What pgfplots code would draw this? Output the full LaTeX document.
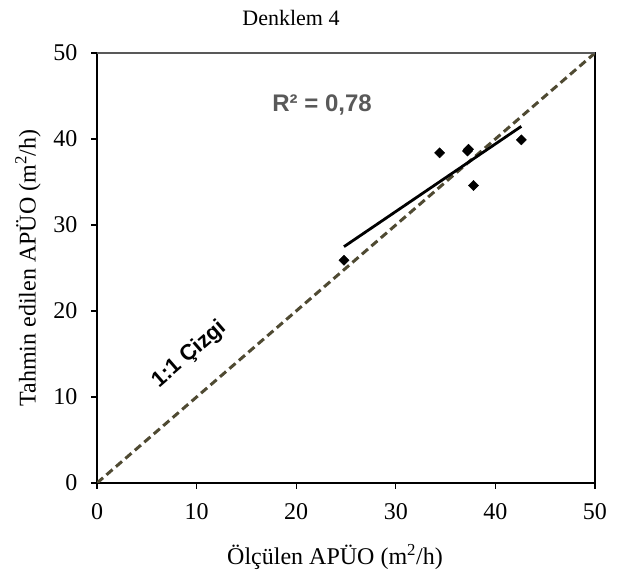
\documentclass[border=0pt]{standalone}
\usepackage{fontspec}
\setmainfont{Liberation Serif}
\setsansfont{Liberation Sans}
\usepackage{pgfplots}
\usepackage{pgfplotstable}
\pgfplotsset{compat=1.18}

\definecolor{onetoone}{RGB}{79,74,50}
\definecolor{rtext}{RGB}{89,89,89}
\definecolor{topline}{RGB}{89,89,89}

% measured vs predicted (m2/h)
\pgfplotstableread{
x    y
24.8 25.9
34.4 38.4
37.2 38.6
37.3 38.8
37.8 34.6
42.6 39.9
}\denklem

\begin{document}
\begin{tikzpicture}
\path (0,0) rectangle (627pt,588pt);
\begin{axis}[
  at={(97pt,105pt)}, anchor=south west,
  scale only axis, width=498pt, height=430pt,
  xmin=0, xmax=50, ymin=0, ymax=50,
  xtick={0,10,...,50}, ytick={0,10,...,50},
  xtick pos=left, ytick pos=left,
  tick align=outside, major tick length=6pt,
  axis line style={line width=1.2pt, black},
  tick style={line width=1.2pt, black},
  tick label style={font=\fontsize{24}{28}\selectfont},
  /pgf/number format/assume math mode=true,
  yticklabel style={xshift=-10pt},
  xticklabel style={yshift=-11pt},
]
\addplot[onetoone, line width=3pt, dash pattern=on 8pt off 4.5pt] coordinates {(0,0) (50,50)};
\addplot[black, line width=2.8pt] table[x=x, y={create col/linear regression={y=y}}] {\denklem};
\addplot[only marks, mark=square*, mark size=3.6pt, mark options={rotate=45, black}] table[x=x, y=y] {\denklem};
\draw[topline, line width=1.2pt] (rel axis cs:0,1) -- (rel axis cs:1,1);
\node[text=rtext, font=\sffamily\bfseries\fontsize{24}{28}\selectfont] at (axis cs:22.6,43.9) {R² = 0,78};
\node[rotate=41, inner sep=0pt, font=\sffamily\bfseries\fontsize{22}{26}\selectfont] at (axis cs:9.3,14.9) {1:1 Çizgi};
\end{axis}
\node[font=\fontsize{22}{26}\selectfont] at (291pt,570pt) {Denklem 4};
\node[font=\fontsize{24}{28}\selectfont] at (335pt,31pt) {Ölçülen APÜO (m\textsuperscript{2}/h)};
\node[rotate=90, font=\fontsize{24}{28}\selectfont] at (28pt,320pt) {Tahmin edilen APÜO (m\textsuperscript{2}/h)};
\end{tikzpicture}
\end{document}
